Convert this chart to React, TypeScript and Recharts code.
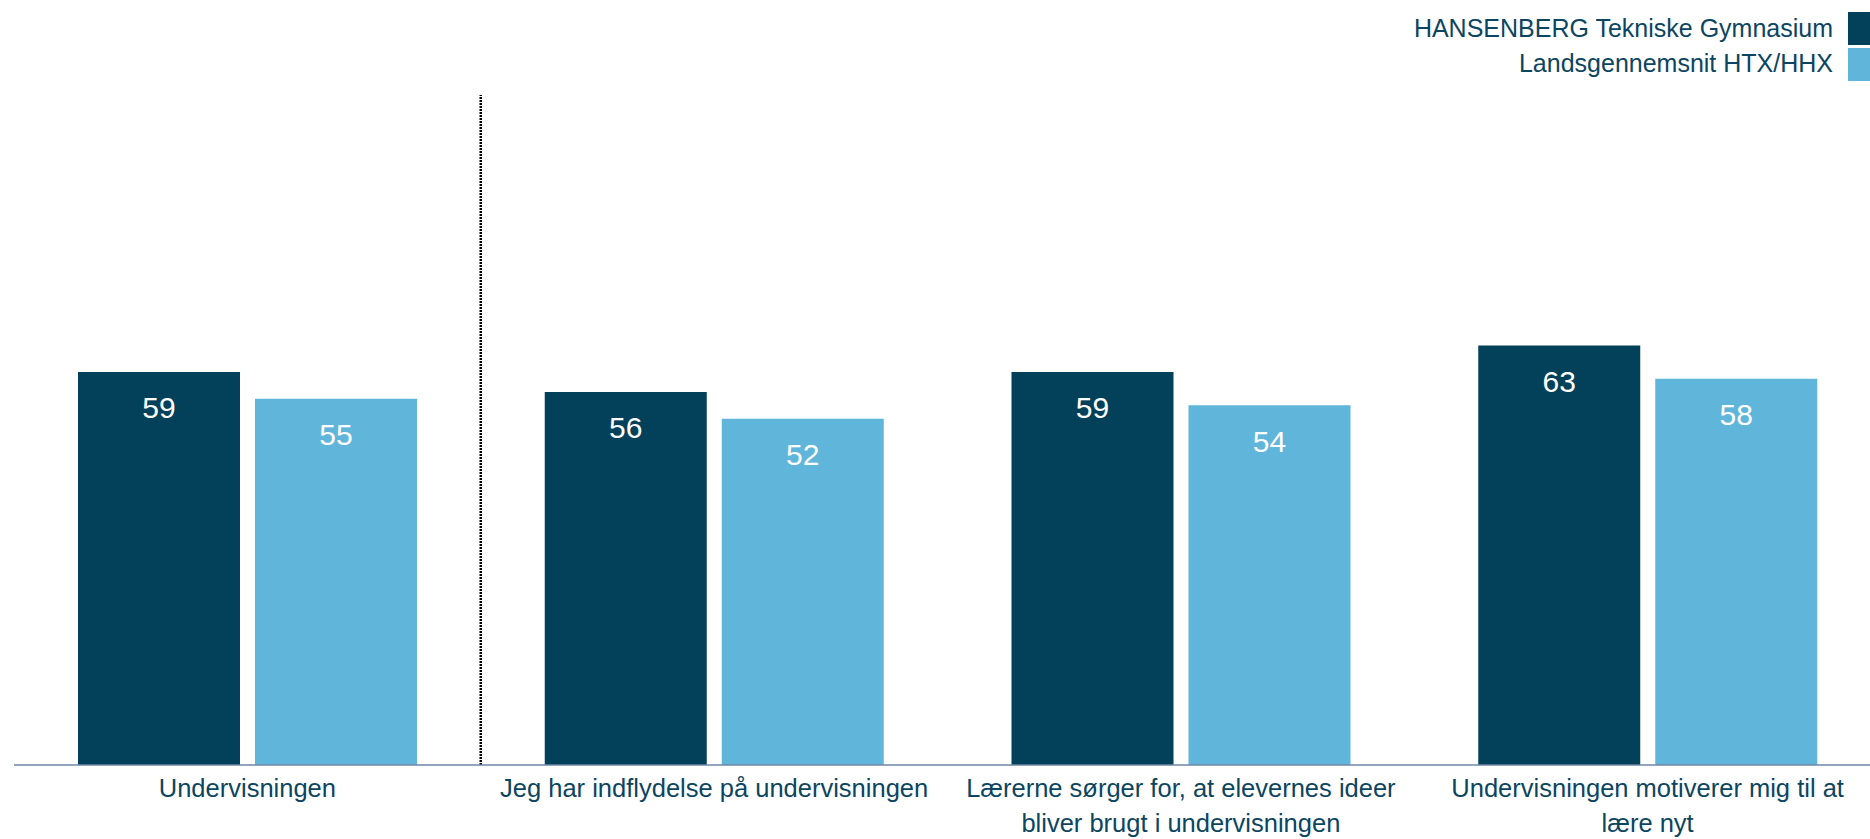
import React from 'react';
import { BarChart, Bar, XAxis, YAxis, LabelList, ReferenceLine } from 'recharts';

const categories: string[] = [
  'Undervisningen',
  'Jeg har indflydelse på undervisningen',
  'Lærerne sørger for, at elevernes ideer\nbliver brugt i undervisningen',
  'Undervisningen motiverer mig til at\nlære nyt',
];
const seriesNames: string[] = ['HANSENBERG Tekniske Gymnasium', 'Landsgennemsnit HTX/HHX'];
const hansenberg: number[] = [59, 56, 59, 63];
const landsgennemsnit: number[] = [55, 52, 54, 58];

const COLORS = ['#034059', '#5fb5da'];
const TEXT = '#0c4560';
const FONT = '"Liberation Sans", Arial, sans-serif';

const data = categories.map((c, i) => ({
  category: c,
  hansenberg: hansenberg[i],
  landsgennemsnit: landsgennemsnit[i],
}));

const CategoryTick = (props: any) => {
  const { x, y, payload } = props;
  const lines = String(payload.value).split('\n');
  return (
    <g>
      <text x={x} y={y} textAnchor="middle" fill={TEXT} fontSize={25.5} fontFamily={FONT}>
        {lines.map((l, i) => (
          <tspan key={i} x={x} dy={i === 0 ? 32 : 34.5}>
            {l}
          </tspan>
        ))}
      </text>
    </g>
  );
};

const LegendBox = () => (
  <svg width={1870} height={90} style={{ position: 'absolute', left: 0, top: 0 }}>
    {seriesNames.map((n, i) => (
      <g key={n}>
        <text
          x={1833}
          y={37.3 + i * 34.4}
          textAnchor="end"
          fill={TEXT}
          fontSize={25}
          fontFamily={FONT}
        >
          {n}
        </text>
        <rect x={1848} y={12 + i * 36} width={30} height={33} fill={COLORS[i]} />
      </g>
    ))}
  </svg>
);

export default function App() {
  return (
    <div
      style={{
        position: 'absolute',
        left: 0,
        top: 0,
        width: 1870,
        height: 839,
        overflow: 'hidden',
        background: '#fff',
      }}
    >
      <BarChart
        width={1890}
        height={839}
        data={data}
        margin={{ top: 95, right: 9, bottom: 0, left: 14 }}
        barSize={162}
        barGap={15}
      >
        <YAxis hide domain={[0, 100.6]} />
        <XAxis
          dataKey="category"
          interval={0}
          tickLine={false}
          tickSize={0}
          tickMargin={0}
          height={74}
          axisLine={{ stroke: '#6f87a6', strokeWidth: 1.5 }}
          tick={<CategoryTick />}
        />
        <ReferenceLine
          x={categories[0]}
          position="end"
          stroke="#000"
          strokeWidth={2.5}
          strokeDasharray="2 1"
        />
        <Bar dataKey="hansenberg" name={seriesNames[0]} fill={COLORS[0]} isAnimationActive={false}>
          <LabelList
            dataKey="hansenberg"
            position="insideTop"
            offset={25}
            fill="#ffffff"
            fontSize={30}
            fontFamily={FONT}
          />
        </Bar>
        <Bar
          dataKey="landsgennemsnit"
          name={seriesNames[1]}
          fill={COLORS[1]}
          isAnimationActive={false}
        >
          <LabelList
            dataKey="landsgennemsnit"
            position="insideTop"
            offset={25}
            fill="#ffffff"
            fontSize={30}
            fontFamily={FONT}
          />
        </Bar>
      </BarChart>
      <LegendBox />
    </div>
  );
}
